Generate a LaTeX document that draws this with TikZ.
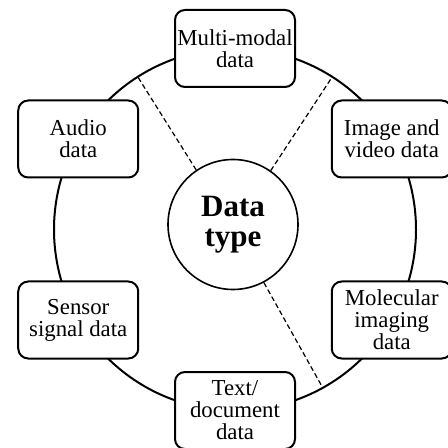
\documentclass[tikz,border=0pt]{standalone}
\usepackage{fontspec}
\setmainfont{Liberation Serif}
\usetikzlibrary{positioning}

\begin{document}
\begin{tikzpicture}[x=0.5pt,y=0.5pt,
  kind/.style={draw,line width=1pt,rounded corners=5pt,fill=white,align=center,minimum width=60pt,minimum height=38.5pt,inner sep=1pt,font=\fontsize{11.4}{11}\selectfont},
  hub/.style={draw,circle,line width=0.8pt,minimum size=65pt,inner sep=0pt,align=center,font=\fontsize{15.5}{15}\selectfont\bfseries},
  spoke/.style={line width=0.6pt,dash pattern=on 2.5pt off 1.5pt}]
\useasboundingbox (-235,-218.5) rectangle (212,229.5);
\draw[line width=1pt] (0,0) circle (181);
\node[hub] (dtype) at (-2,5) {Data\\type};
% dashed spokes from the hub out to the ring
\foreach \a/\b/\n in {124/122.5/ul,55/57.5/ur,298/299/lr}{
  \coordinate (rim\n) at (\b:181);
  \draw[spoke] (dtype.\a) -- (rim\n);}
\node[kind] (multi) at (90:181) {Multi-modal\\data};
\node[kind] (image) at (30:181) {Image and\\video data};
\node[kind] (molec) at (-30:181) {Molecular\\imaging\\data};
\node[kind] (text) at (-90:181) {Text/\\document\\data};
\node[kind] (sensor) at (210:181) {Sensor\\signal data};
\node[kind] (audio) at (150:181) {Audio\\data};
\end{tikzpicture}
\end{document}
